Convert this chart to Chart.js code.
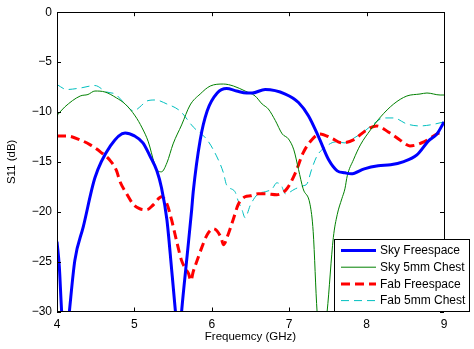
<!DOCTYPE html>
<html>
<head>
<meta charset="utf-8">
<script src="https://cdn.jsdelivr.net/npm/chart.js@4"></script>
<style>
html,body{margin:0;padding:0;background:#fff;}
#wrap{width:474px;height:349px;position:relative;}
</style>
</head>
<body>
<div id="wrap"><canvas id="c"></canvas></div>
<script>
const seriesNames = ['Sky Freespace', 'Sky 5mm Chest', 'Fab Freespace', 'Fab 5mm Chest'];
const xTicks = [4, 5, 6, 7, 8, 9];
const yTicks = [0, -5, -10, -15, -20, -25, -30];

const skyFreeF  = [4.0, 4.03, 4.06, 4.11, 4.16, 4.23, 4.34, 4.49, 4.69, 4.88, 5.0, 5.11, 5.20, 5.29, 5.35, 5.42, 5.48, 5.53, 5.57, 5.61, 5.68, 5.74, 5.76, 5.85, 5.94, 6.07, 6.19, 6.32, 6.45, 6.52, 6.69, 6.95, 7.12, 7.25, 7.38, 7.51, 7.62, 7.72, 7.80, 7.97, 8.15, 8.31, 8.47, 8.65, 8.80, 8.91, 9.0];
const skyFreeDb = [-23.0, -25.5, -30, -34, -30, -24.9, -21.5, -16.6, -13.4, -12.1, -12.4, -13.1, -14.4, -15.9, -17.6, -20.8, -25.7, -30, -34, -30, -24.5, -19.8, -18.0, -12.8, -9.9, -8.1, -7.65, -7.9, -8.1, -8.1, -7.75, -8.2, -9.05, -10.4, -12.5, -14.8, -15.9, -16.1, -16.2, -15.7, -15.4, -15.3, -15.0, -14.3, -12.9, -12.2, -11.0];

const skyChestF  = [4.0, 4.10, 4.30, 4.40, 4.49, 4.62, 4.77, 4.88, 5.01, 5.10, 5.18, 5.26, 5.30, 5.35, 5.42, 5.50, 5.61, 5.72, 5.85, 5.98, 6.15, 6.28, 6.43, 6.56, 6.65, 6.73, 6.82, 6.91, 6.99, 7.06, 7.12, 7.18, 7.27, 7.31, 7.36, 7.42, 7.49, 7.57, 7.62, 7.68, 7.72, 7.75, 7.83, 7.92, 8.05, 8.18, 8.35, 8.52, 8.69, 8.78, 8.95, 9.0];
const skyChestDb = [-10.35, -9.5, -8.4, -8.25, -7.9, -8.0, -8.6, -9.2, -10.4, -11.6, -13.0, -15.2, -15.9, -16.0, -15.1, -13.2, -11.3, -9.3, -8.2, -7.4, -7.2, -7.4, -7.9, -8.4, -9.2, -9.7, -10.85, -12.2, -12.7, -13.8, -15.75, -17.7, -19.3, -22.0, -30, -34, -30, -22.6, -20.3, -18.7, -17.7, -16.4, -14.8, -13.3, -11.8, -10.5, -9.2, -8.4, -8.2, -8.1, -8.3, -8.3];

const fabFreeF  = [4.0, 4.125, 4.30, 4.43, 4.56, 4.69, 4.77, 4.81, 4.90, 4.99, 5.07, 5.16, 5.245, 5.35, 5.42, 5.48, 5.55, 5.61, 5.66, 5.70, 5.73, 5.76, 5.81, 5.87, 5.94, 6.02, 6.12, 6.15, 6.21, 6.28, 6.34, 6.43, 6.50, 6.60, 6.69, 6.84, 6.97, 7.08, 7.18, 7.29, 7.40, 7.55, 7.68, 7.83, 8.0, 8.13, 8.28, 8.43, 8.56, 8.74, 8.91, 9.0];
const fabFreeDb = [-12.4, -12.4, -12.8, -13.3, -14.0, -14.9, -15.9, -16.9, -18.2, -19.3, -19.7, -19.8, -19.3, -18.5, -19.2, -20.8, -23.1, -24.9, -25.7, -26.2, -26.9, -26.0, -24.9, -23.6, -22.3, -21.7, -22.6, -23.3, -22.3, -20.7, -19.3, -18.5, -18.4, -18.2, -18.2, -18.3, -17.7, -16.1, -14.1, -12.8, -12.2, -12.65, -13.1, -12.8, -11.8, -11.4, -12.0, -12.8, -13.4, -13.0, -12.2, -11.9];

const fabChestF  = [4.0, 4.125, 4.30, 4.49, 4.64, 4.75, 4.88, 4.99, 5.07, 5.16, 5.27, 5.42, 5.59, 5.76, 5.94, 6.06, 6.15, 6.19, 6.30, 6.34, 6.39, 6.43, 6.50, 6.60, 6.69, 6.78, 6.84, 6.90, 6.95, 7.08, 7.18, 7.23, 7.29, 7.36, 7.47, 7.60, 7.72, 7.83, 7.96, 8.09, 8.22, 8.35, 8.52, 8.69, 8.82, 9.0];
const fabChestDb = [-7.25, -7.75, -7.6, -7.35, -8.0, -8.2, -9.2, -9.9, -9.5, -8.9, -8.8, -9.2, -9.9, -11.5, -12.8, -14.4, -16.1, -17.3, -18.0, -18.9, -19.8, -20.6, -19.3, -18.2, -18.0, -17.7, -17.1, -17.4, -18.2, -17.7, -17.4, -17.2, -15.75, -14.4, -13.5, -13.0, -13.1, -12.65, -12.0, -11.2, -10.6, -10.6, -11.2, -11.4, -11.3, -11.0];

const colors = ['#0000ff', '#008000', '#ff0000', '#00bfbf'];
const widths = [3, 1, 3, 1];
const dashes = [[], [], [9, 5], [8, 5]];

function pts(f, d) { return f.map((x, i) => ({x: x, y: d[i]})); }
const allF = [skyFreeF, skyChestF, fabFreeF, fabChestF];
const allD = [skyFreeDb, skyChestDb, fabFreeDb, fabChestDb];

const datasets = seriesNames.map((n, i) => ({
  label: n,
  data: pts(allF[i], allD[i]),
  borderColor: colors[i],
  borderWidth: widths[i],
  borderDash: dashes[i],
  pointRadius: 0,
  fill: false,
  tension: 0.35,
  cubicInterpolationMode: 'monotone',
  clip: 0
}));

const FONT = 'Liberation Sans, Arial, Helvetica, sans-serif';
const fmt = v => v < 0 ? '\u2212' + Math.abs(v) : String(v);

const frame = {
  id: 'frame',
  afterDraw(chart) {
    const ctx = chart.ctx, a = chart.chartArea;
    const xs = chart.scales.x, ys = chart.scales.y;
    ctx.save();
    ctx.strokeStyle = '#000';
    ctx.lineWidth = 1;
    ctx.setLineDash([]);
    ctx.strokeRect(Math.round(a.left) + 0.5, Math.round(a.top) + 0.5, Math.round(a.right - a.left), Math.round(a.bottom - a.top));
    const L = 4;
    ctx.beginPath();
    xTicks.forEach(v => {
      const px = Math.round(xs.getPixelForValue(v)) + 0.5;
      ctx.moveTo(px, a.bottom); ctx.lineTo(px, a.bottom - L);
      ctx.moveTo(px, a.top); ctx.lineTo(px, a.top + L);
    });
    yTicks.forEach(v => {
      const py = Math.round(ys.getPixelForValue(v)) + 0.5;
      ctx.moveTo(a.left, py); ctx.lineTo(a.left + L, py);
      ctx.moveTo(a.right, py); ctx.lineTo(a.right - L, py);
    });
    ctx.stroke();

    // legend box
    const bx = 334, by = 239, bw = 135, bh = 72;
    ctx.fillStyle = '#fff';
    ctx.fillRect(bx, by, bw, bh);
    ctx.strokeRect(bx + 0.5, by + 0.5, bw, bh);
    ctx.font = '12px ' + FONT;
    ctx.textBaseline = 'middle';
    ctx.textAlign = 'left';
    seriesNames.forEach((n, i) => {
      const yy = 250.5 + i * 16.7;
      ctx.beginPath();
      ctx.strokeStyle = colors[i];
      ctx.lineWidth = widths[i];
      ctx.setLineDash(dashes[i]);
      ctx.moveTo(341, yy); ctx.lineTo(376, yy);
      ctx.stroke();
      ctx.setLineDash([]);
      ctx.fillStyle = '#000';
      ctx.fillText(n, 380, yy + 0.5);
    });
    ctx.restore();
  }
};

new Chart(document.getElementById('c'), {
  type: 'line',
  data: { datasets: datasets },
  options: {
    responsive: true,
    maintainAspectRatio: false,
    animation: false,
    layout: { padding: { top: 6, right: 30, left: 0, bottom: 5 } },
    plugins: { legend: { display: false }, tooltip: { enabled: false } },
    scales: {
      x: {
        type: 'linear', min: 4, max: 9,
        afterBuildTicks: s => { s.ticks = xTicks.map(v => ({value: v})); },
        afterFit: s => { s.height = 32.5; },
        grid: { display: false, drawTicks: false },
        border: { display: false },
        ticks: { color: '#000', font: { family: FONT, size: 12 }, padding: 6, maxRotation: 0, callback: fmt },
        title: { display: true, text: 'Frequemcy (GHz)', color: '#000', font: { family: FONT, size: 11.5 }, padding: { top: 0, bottom: 0 } }
      },
      y: {
        type: 'linear', min: -30, max: 0,
        afterBuildTicks: s => { s.ticks = yTicks.map(v => ({value: v})); },
        afterFit: s => { s.width = 57; },
        grid: { display: false, drawTicks: false },
        border: { display: false },
        ticks: { color: '#000', font: { family: FONT, size: 12 }, padding: 5, callback: fmt },
        title: { display: true, text: 'S11 (dB)', color: '#000', font: { family: FONT, size: 11.5 }, padding: { top: 5, bottom: 0 } }
      }
    }
  },
  plugins: [frame]
});
</script>
</body>
</html>
